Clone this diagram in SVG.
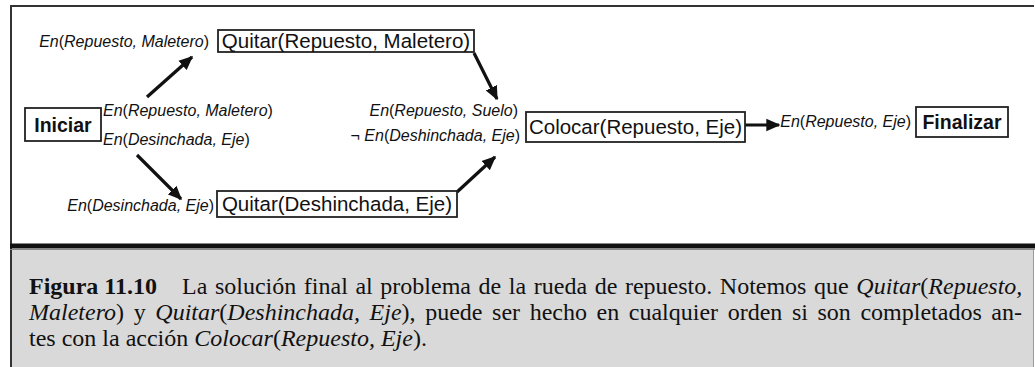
<svg xmlns="http://www.w3.org/2000/svg" width="1035" height="367" viewBox="0 0 1035 367">
<style>
.box{fill:#fff;stroke:#222;stroke-width:1.8}
.nt{font-family:"Liberation Sans",Arial,sans-serif;font-size:20.5px;fill:#111}
.bt{font-family:"Liberation Sans",Arial,sans-serif;font-size:19.5px;font-weight:bold;fill:#111}
.lb{font-family:"Liberation Sans",Arial,sans-serif;font-size:16px;fill:#111}
.i{font-style:italic}
.cap{font-family:"Liberation Serif","Times New Roman",serif;font-size:24px;fill:#111}
.arr{stroke:#111;stroke-width:3.2;fill:none}
</style>
<defs>
<marker id="ah" viewBox="0 0 10 10" refX="9" refY="5" markerWidth="4.4" markerHeight="4.4" orient="auto" markerUnits="strokeWidth">
<path d="M0,0.6 L10,5 L0,9.4 Z" fill="#111"/>
</marker>
</defs>
<rect x="0" y="0" width="1035" height="367" fill="#fff"/>
<g id="frame">
<rect x="12" y="249" width="1021" height="120" fill="#d9d9d9"/>
<line x1="1033.5" y1="249" x2="1033.5" y2="367" stroke="#9a9a9a" stroke-width="1"/>
<line x1="10" y1="6" x2="1034" y2="6" stroke="#333" stroke-width="2"/>
<line x1="11" y1="5" x2="11" y2="367" stroke="#333" stroke-width="2"/>
<rect x="10" y="243.5" width="1025" height="5" fill="#111"/>
<line x1="10" y1="249.5" x2="1035" y2="249.5" stroke="#888" stroke-width="1"/>
</g>
<g id="connectors">
<line class="arr" x1="147" y1="97" x2="192" y2="57" marker-end="url(#ah)"/>
<line class="arr" x1="474" y1="53" x2="497" y2="99" marker-end="url(#ah)"/>
<line class="arr" x1="137" y1="155" x2="181" y2="199" marker-end="url(#ah)"/>
<line class="arr" x1="457" y1="192" x2="495" y2="157" marker-end="url(#ah)"/>
<line class="arr" x1="745" y1="125" x2="779" y2="125" marker-end="url(#ah)"/>
</g>
<g id="iniciar">
<rect class="box" x="25" y="108" width="76" height="33"/>
<text class="bt" x="63" y="131.5" text-anchor="middle">Iniciar</text>
<text class="lb" x="103" y="116"><tspan class="i">En</tspan>(<tspan class="i">Repuesto, Maletero</tspan>)</text>
<text class="lb" x="103" y="145"><tspan class="i">En</tspan>(<tspan class="i">Desinchada, Eje</tspan>)</text>
</g>
<g id="quitar-repuesto">
<text class="lb" x="209" y="47" text-anchor="end"><tspan class="i">En</tspan>(<tspan class="i">Repuesto, Maletero</tspan>)</text>
<rect class="box" x="218" y="30" width="256" height="22"/>
<text class="nt" x="346" y="48" text-anchor="middle">Quitar(Repuesto, Maletero)</text>
</g>
<g id="quitar-deshinchada">
<text class="lb" x="214" y="211" text-anchor="end"><tspan class="i">En</tspan>(<tspan class="i">Desinchada, Eje</tspan>)</text>
<rect class="box" x="217" y="191" width="240" height="26"/>
<text class="nt" x="337" y="211" text-anchor="middle">Quitar(Deshinchada, Eje)</text>
</g>
<g id="colocar">
<text class="lb" x="518" y="116" text-anchor="end"><tspan class="i">En</tspan>(<tspan class="i">Repuesto, Suelo</tspan>)</text>
<text class="lb" x="520" y="141" text-anchor="end">¬ <tspan class="i">En</tspan>(<tspan class="i">Deshinchada, Eje</tspan>)</text>
<rect class="box" x="526" y="112" width="219" height="30"/>
<text class="nt" x="635.5" y="134" text-anchor="middle">Colocar(Repuesto, Eje)</text>
</g>
<g id="finalizar">
<text class="lb" x="911" y="127" text-anchor="end"><tspan class="i">En</tspan>(<tspan class="i">Repuesto, Eje</tspan>)</text>
<rect class="box" x="916" y="107" width="92" height="30"/>
<text class="bt" x="962" y="129" text-anchor="middle">Finalizar</text>
</g>
<g id="caption">
<text class="cap" x="29" y="294"><tspan font-weight="bold">Figura 11.10</tspan><tspan x="182" word-spacing="1.6">La solución final al problema de la rueda de repuesto. Notemos que </tspan><tspan class="i">Quitar</tspan>(<tspan class="i">Repuesto,</tspan></text>
<text class="cap" x="29" y="320" word-spacing="3.6"><tspan class="i">Maletero</tspan>) y <tspan class="i">Quitar</tspan>(<tspan class="i">Deshinchada, Eje</tspan>), puede ser hecho en cualquier orden si son completados an-</text>
<text class="cap" x="29" y="346">tes con la acción <tspan class="i">Colocar</tspan>(<tspan class="i">Repuesto, Eje</tspan>).</text>
</g>
</svg>
